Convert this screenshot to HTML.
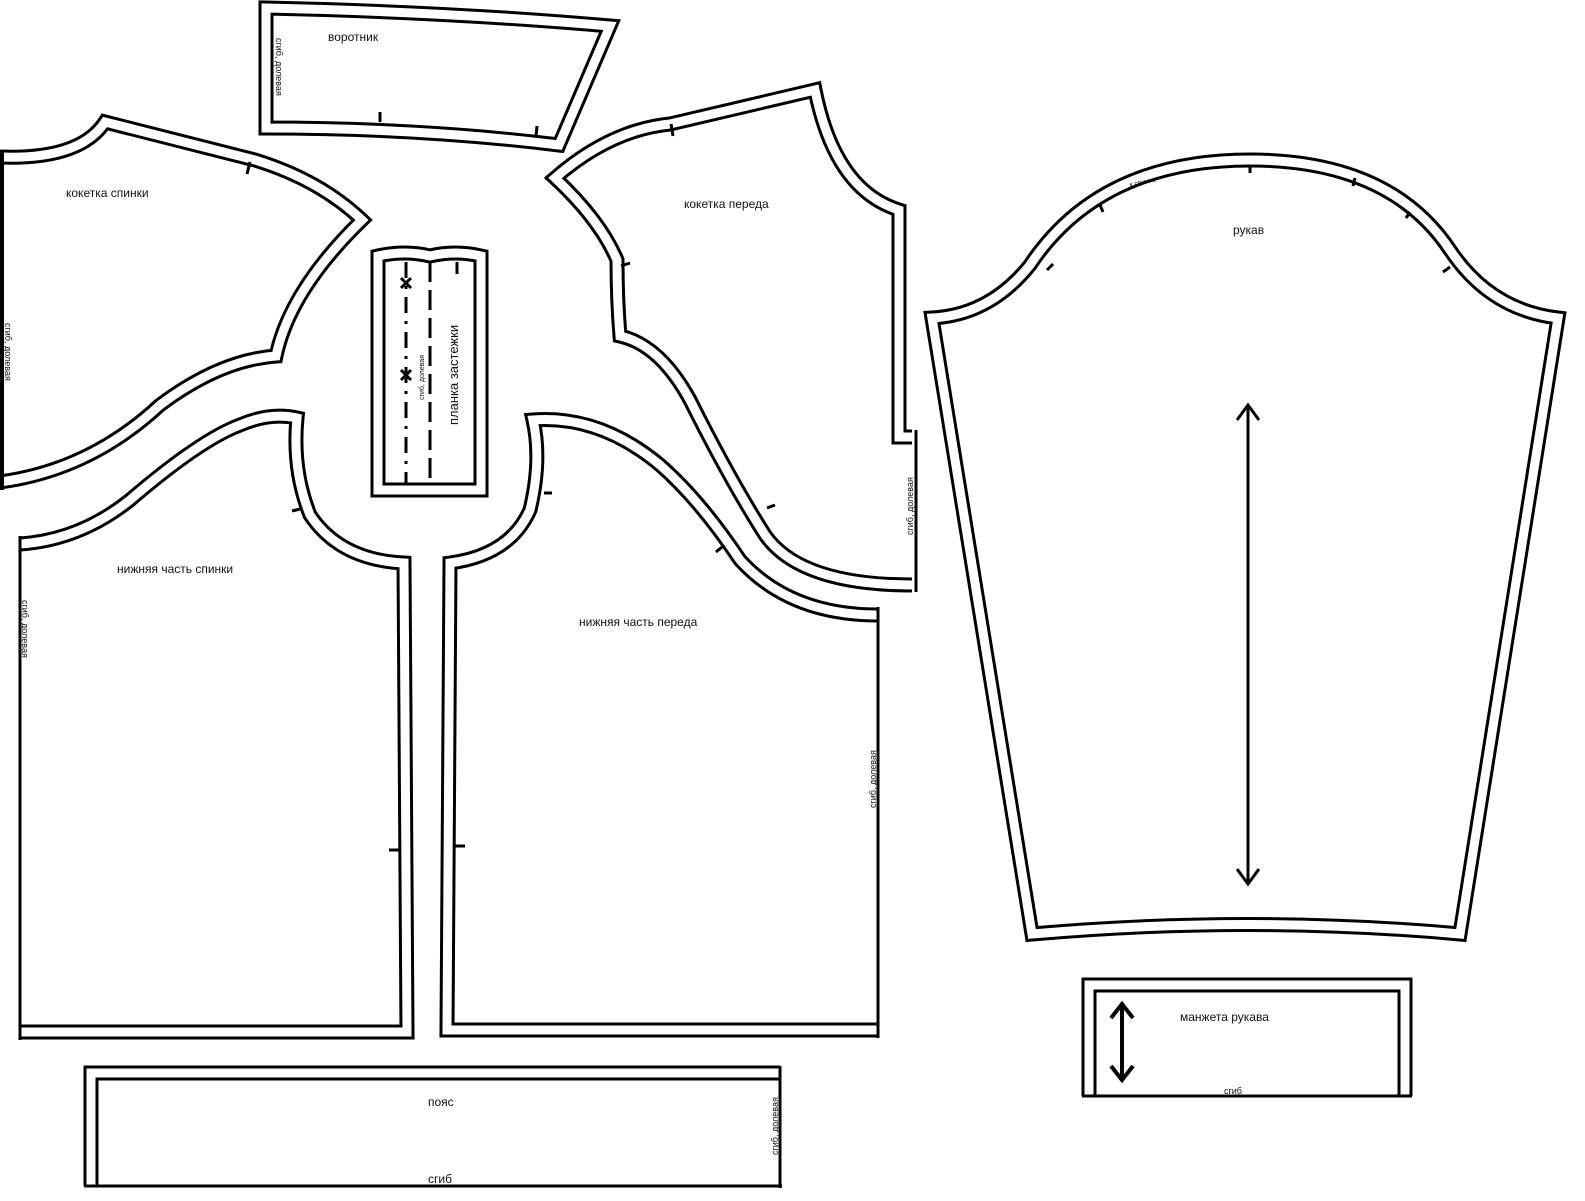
<!DOCTYPE html>
<html><head><meta charset="utf-8"><style>
html,body{margin:0;padding:0;background:#fff}
svg{display:block}
text{font-family:"Liberation Sans",sans-serif;fill:#111}
.o{fill:none;stroke:#000;stroke-width:15;stroke-linejoin:miter}
.i{fill:none;stroke:#fff;stroke-width:9;stroke-linejoin:miter}
.f{fill:#fff;stroke:none}
.s{fill:none;stroke:#000;stroke-width:3}
.t{stroke:#000;stroke-width:3}
</style></head><body>
<svg width="1585" height="1201" viewBox="0 0 1585 1201" xmlns="http://www.w3.org/2000/svg">
<defs>
<path id="vor" d="M266,8 Q450,12 610,26 L559,145 Q420,128 266,128 Z"/>
<path id="ks" d="M0,157 Q80,160 105,122 L255,160 Q320,180 362,220 Q290,290 276,356 Q220,360 160,405 Q90,470 0,482"/>
<path id="ns" d="M20,1032 L407,1032 L404,563 Q340,560 310,515 Q292,470 297,418 Q270,412 240,425 Q200,440 130,500 Q80,540 20,544"/>
<path id="np" d="M878,1030 L447,1030 L450,563 Q510,555 530,510 Q542,460 533,420 Q600,415 660,465 Q700,500 740,560 Q790,615 878,615"/>
<path id="kp" d="M912,585 Q800,585 765,535 Q730,480 690,400 Q660,345 620,336 Q617,300 617,260 Q600,220 555,178 Q610,130 670,124 L815,90 Q835,190 899,210 L899,437 L912,437"/>
<path id="ruk" d="M932,318 Q990,315 1030,265 Q1100,160 1250,160 Q1390,160 1450,250 Q1490,310 1558,318 L1460,934 Q1250,915 1032,934 Z"/>
<path id="man" d="M1089,1096 L1089,985 L1405,985 L1405,1096"/>
<path id="poy" d="M780,1073 L91,1073 L91,1186"/>
<path id="pl" d="M378,490 L378,256 Q405,250 430,256 Q455,250 481,256 L481,490 Z"/>
</defs>
<use href="#vor" class="f"/>
<path class="f" d="M0,157 Q80,160 105,122 L255,160 Q320,180 362,220 Q290,290 276,356 Q220,360 160,405 Q90,470 0,482 Z"/>
<use href="#ruk" class="f"/>
<use href="#vor" class="o"/><use href="#vor" class="i"/>
<use href="#ks" class="o"/><use href="#ks" class="i"/>
<use href="#ns" class="o"/><use href="#ns" class="i"/>
<use href="#np" class="o"/><use href="#np" class="i"/>
<use href="#kp" class="o"/><use href="#kp" class="i"/>
<use href="#ruk" class="o"/><use href="#ruk" class="i"/>
<use href="#man" class="o"/><use href="#man" class="i"/>
<use href="#poy" class="o"/><use href="#poy" class="i"/>
<use href="#pl" class="o"/><use href="#pl" class="i"/>
<line x1="2" y1="150" x2="2" y2="490" stroke="#000" stroke-width="4"/>
<line x1="20" y1="536" x2="20" y2="1040" stroke="#000" stroke-width="3"/>
<line x1="878" y1="607" x2="878" y2="1038" stroke="#000" stroke-width="3"/>
<line x1="916" y1="430" x2="916" y2="592" stroke="#000" stroke-width="3"/>
<line x1="1082" y1="1096" x2="1412" y2="1096" stroke="#000" stroke-width="3"/>
<line x1="780" y1="1066" x2="780" y2="1188" stroke="#000" stroke-width="3"/>
<line x1="84" y1="1186" x2="782" y2="1186" stroke="#000" stroke-width="3"/>
<line x1="406" y1="262" x2="406" y2="484" stroke="#000" stroke-width="3" stroke-dasharray="16,8,3,8"/>
<line x1="430" y1="262" x2="430" y2="484" stroke="#000" stroke-width="3" stroke-dasharray="20,8"/>
<line x1="457" y1="262" x2="457" y2="274" stroke="#000" stroke-width="3"/>
<path class="t" d="M401,278 L411,288 M411,278 L401,288 M401,370 L411,380 M411,370 L401,380"/>
<path class="t" d="M250,162 L247,174 M380,112 L380,122 M537,126 L536,136 M671,124 L673,136 M621,266 L630,263 M767,508 L775,505 M716,552 L722,547 M544,493 L552,493 M292,511 L300,509 M389,850 L400,850 M455,846 L465,846 M1047,270 L1053,264 M1100,205 L1103,212 M1250,165 L1250,173 M1355,178 L1353,186 M1410,212 L1406,218 M1443,272 L1450,267"/>
<path class="s" d="M1248,405 L1248,884 M1237,420 L1248,405 L1259,420 M1237,869 L1248,884 L1259,869"/>
<path d="M1122,1004 L1122,1080 M1111,1018 L1122,1004 L1133,1018 M1111,1066 L1122,1080 L1133,1066" fill="none" stroke="#000" stroke-width="4"/>
<text x="328" y="41" font-size="12">воротник</text>
<text x="66" y="197" font-size="12">кокетка спинки</text>
<text x="684" y="208" font-size="12">кокетка переда</text>
<text x="1233" y="234" font-size="12">рукав</text>
<text x="117" y="573" font-size="12">нижняя часть спинки</text>
<text x="579" y="626" font-size="12">нижняя часть переда</text>
<text x="1180" y="1021" font-size="12">манжета рукава</text>
<text x="428" y="1106" font-size="12">пояс</text>
<text x="428" y="1183" font-size="12">сгиб</text>
<text x="1224" y="1094" font-size="9">сгиб</text>
<text x="1130" y="187" font-size="7" transform="rotate(-12 1130 187)">к спинке</text>
<text transform="translate(458,425) rotate(-90)" font-size="13">планка застежки</text>
<text transform="translate(424,400) rotate(-90)" font-size="7">сгиб, долевая</text>
<text transform="translate(276,38) rotate(90)" font-size="9">сгиб, долевая</text>
<text transform="translate(5,323) rotate(90)" font-size="9">сгиб, долевая</text>
<text transform="translate(22,600) rotate(90)" font-size="9">сгиб, долевая</text>
<text transform="translate(876,808) rotate(-90)" font-size="9">сгиб, долевая</text>
<text transform="translate(913,535) rotate(-90)" font-size="9">сгиб, долевая</text>
<text transform="translate(778,1155) rotate(-90)" font-size="9">сгиб, долевая</text>
</svg>
</body></html>
